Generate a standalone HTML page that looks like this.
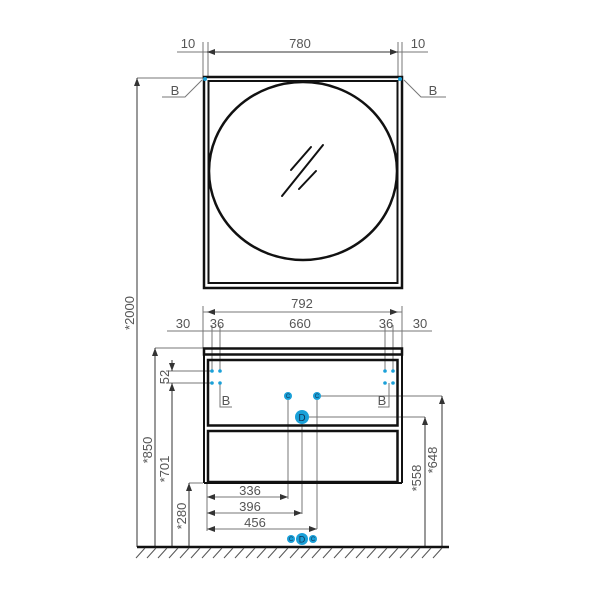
<!DOCTYPE html>
<html><head><meta charset="utf-8"><style>
body{margin:0;background:#fff;}
svg{display:block;}
text{font-family:"Liberation Sans",sans-serif;font-size:13px;fill:#555;}
</style></head><body>
<svg width="600" height="600" viewBox="0 0 600 600">
<defs>
<marker id="a" markerWidth="8" markerHeight="6" refX="8" refY="3" orient="auto-start-reverse" markerUnits="userSpaceOnUse"><path d="M0,0 L8,3 L0,6 z" fill="#333"/></marker>
</defs>
<g stroke="#777" stroke-width="1" fill="none">
<!-- top dims -->
<line x1="177" y1="52" x2="428" y2="52"/>
<line x1="203" y1="42" x2="203" y2="78"/><line x1="208" y1="42" x2="208" y2="78"/>
<line x1="398" y1="42" x2="398" y2="78"/><line x1="402" y1="42" x2="402" y2="78"/>
<polyline points="202,80 185,97 162,97"/><polyline points="404,80 421,97 446,97"/>
<line x1="137" y1="78" x2="203" y2="78"/>
<!-- 792 / 30 36 660 -->
<line x1="203" y1="312" x2="402" y2="312"/>
<line x1="167" y1="331" x2="432" y2="331"/>
<line x1="203" y1="306" x2="203" y2="348"/><line x1="212" y1="325" x2="212" y2="371"/><line x1="220" y1="325" x2="220" y2="371"/>
<line x1="385" y1="325" x2="385" y2="371"/><line x1="393" y1="325" x2="393" y2="371"/><line x1="402" y1="306" x2="402" y2="348"/>
<!-- left verticals -->
<line x1="155" y1="348" x2="203" y2="348"/>
<line x1="166" y1="371" x2="212" y2="371"/><line x1="166" y1="383" x2="212" y2="383"/>
<line x1="189" y1="483" x2="203" y2="483"/>
<polyline points="220,383 220,407 232,407"/><polyline points="389,383 389,407 378,407"/>
<!-- C/D dims -->
<line x1="288" y1="400" x2="288" y2="499"/><line x1="302" y1="424" x2="302" y2="514"/><line x1="317" y1="400" x2="317" y2="529"/>
<line x1="207" y1="483" x2="207" y2="531"/>
<line x1="317" y1="396" x2="442" y2="396"/><line x1="302" y1="417" x2="425" y2="417"/>
</g>
<g stroke="#333" stroke-width="1" fill="none">
<line x1="207" y1="52" x2="398" y2="52" marker-start="url(#a)" marker-end="url(#a)"/>
<line x1="137" y1="547" x2="137" y2="78" marker-end="url(#a)"/>
<line x1="155" y1="547" x2="155" y2="348" marker-end="url(#a)"/>
<line x1="172" y1="547" x2="172" y2="383" marker-end="url(#a)"/>
<line x1="172" y1="360" x2="172" y2="371" marker-end="url(#a)"/>
<line x1="189" y1="547" x2="189" y2="483" marker-end="url(#a)"/>
<line x1="425" y1="547" x2="425" y2="417" marker-end="url(#a)"/>
<line x1="442" y1="547" x2="442" y2="396" marker-end="url(#a)"/>
<line x1="207" y1="312" x2="398" y2="312" marker-start="url(#a)" marker-end="url(#a)" stroke="#777"/>
<line x1="207" y1="497" x2="288" y2="497" marker-start="url(#a)" marker-end="url(#a)" stroke="#777"/>
<line x1="207" y1="513" x2="302" y2="513" marker-start="url(#a)" marker-end="url(#a)" stroke="#777"/>
<line x1="207" y1="529" x2="317" y2="529" marker-start="url(#a)" marker-end="url(#a)" stroke="#777"/>
</g>
<!-- mirror -->
<g stroke="#111" fill="none">
<rect x="204" y="77" width="198" height="211" stroke-width="2.5"/>
<rect x="208.5" y="81" width="189" height="202" stroke-width="2"/>
<ellipse cx="303" cy="171" rx="94" ry="89" stroke-width="2.5"/>
<g stroke-width="2" stroke-linecap="round"><line x1="291" y1="170" x2="311" y2="147"/><line x1="282" y1="196" x2="323" y2="145"/><line x1="299" y1="189" x2="316" y2="171"/></g>
</g>
<circle cx="205" cy="79" r="2" fill="#1aa0d8"/><circle cx="400" cy="79" r="2" fill="#1aa0d8"/>
<!-- cabinet -->
<g stroke="#111" fill="none">
<rect x="204" y="348.5" width="198" height="6" stroke-width="2.5"/>
<line x1="204" y1="355" x2="204" y2="483" stroke-width="2"/><line x1="402" y1="355" x2="402" y2="483" stroke-width="2"/>
<line x1="204" y1="483" x2="402" y2="483" stroke-width="2"/>
<rect x="208" y="360" width="189.5" height="65.5" stroke-width="2.5"/>
<rect x="208" y="431" width="189.5" height="51" stroke-width="2.5"/>
</g>
<g fill="#1aa0d8">
<circle cx="212" cy="371" r="1.8"/><circle cx="220" cy="371" r="1.8"/><circle cx="212" cy="383" r="1.8"/><circle cx="220" cy="383" r="1.8"/>
<circle cx="385" cy="371" r="1.8"/><circle cx="393" cy="371" r="1.8"/><circle cx="385" cy="383" r="1.8"/><circle cx="393" cy="383" r="1.8"/>
<circle cx="288" cy="396" r="4"/><circle cx="317" cy="396" r="4"/><circle cx="302" cy="417" r="7"/>
<circle cx="291" cy="539" r="4"/><circle cx="313" cy="539" r="4"/><circle cx="302" cy="539" r="6"/>
</g>
<g font-size="7" text-anchor="middle" style="font-size:6px;fill:#135">
<text x="288" y="398" style="font-size:6px;fill:#135">C</text><text x="317" y="398" style="font-size:6px;fill:#135">C</text>
<text x="302" y="421" style="font-size:10px;fill:#135">D</text>
<text x="291" y="541" style="font-size:6px;fill:#135">C</text><text x="313" y="541" style="font-size:6px;fill:#135">C</text>
<text x="302" y="542.5" style="font-size:9px;fill:#135">D</text>
</g>
<!-- floor -->
<line x1="137" y1="547" x2="449" y2="547" stroke="#111" stroke-width="2.5"/>
<g stroke="#555" stroke-width="1">
<path d="M145,548 l-9,10 M156,548 l-9,10 M167,548 l-9,10 M178,548 l-9,10 M189,548 l-9,10 M200,548 l-9,10 M211,548 l-9,10 M222,548 l-9,10 M233,548 l-9,10 M244,548 l-9,10 M255,548 l-9,10 M266,548 l-9,10 M277,548 l-9,10 M288,548 l-9,10 M299,548 l-9,10 M310,548 l-9,10 M321,548 l-9,10 M332,548 l-9,10 M343,548 l-9,10 M354,548 l-9,10 M365,548 l-9,10 M376,548 l-9,10 M387,548 l-9,10 M398,548 l-9,10 M409,548 l-9,10 M420,548 l-9,10 M431,548 l-9,10 M442,548 l-9,10"/>
</g>
<!-- labels -->
<g text-anchor="middle">
<text x="188" y="48">10</text><text x="300" y="48">780</text><text x="418" y="48">10</text>
<text x="175" y="95">B</text><text x="433" y="95">B</text>
<text x="302" y="308">792</text>
<text x="183" y="328">30</text><text x="217" y="328">36</text><text x="300" y="328">660</text><text x="386" y="328">36</text><text x="420" y="328">30</text>
<text x="226" y="405">B</text><text x="382" y="405">B</text>
<text x="250" y="495">336</text><text x="250" y="511">396</text><text x="255" y="527">456</text>
<text transform="translate(134,313) rotate(-90)">*2000</text>
<text transform="translate(152,450) rotate(-90)">*850</text>
<text transform="translate(169,377) rotate(-90)">52</text>
<text transform="translate(169,469) rotate(-90)">*701</text>
<text transform="translate(186,516) rotate(-90)">*280</text>
<text transform="translate(421,478) rotate(-90)">*558</text>
<text transform="translate(437,460) rotate(-90)">*648</text>
</g>
</svg>
</body></html>
